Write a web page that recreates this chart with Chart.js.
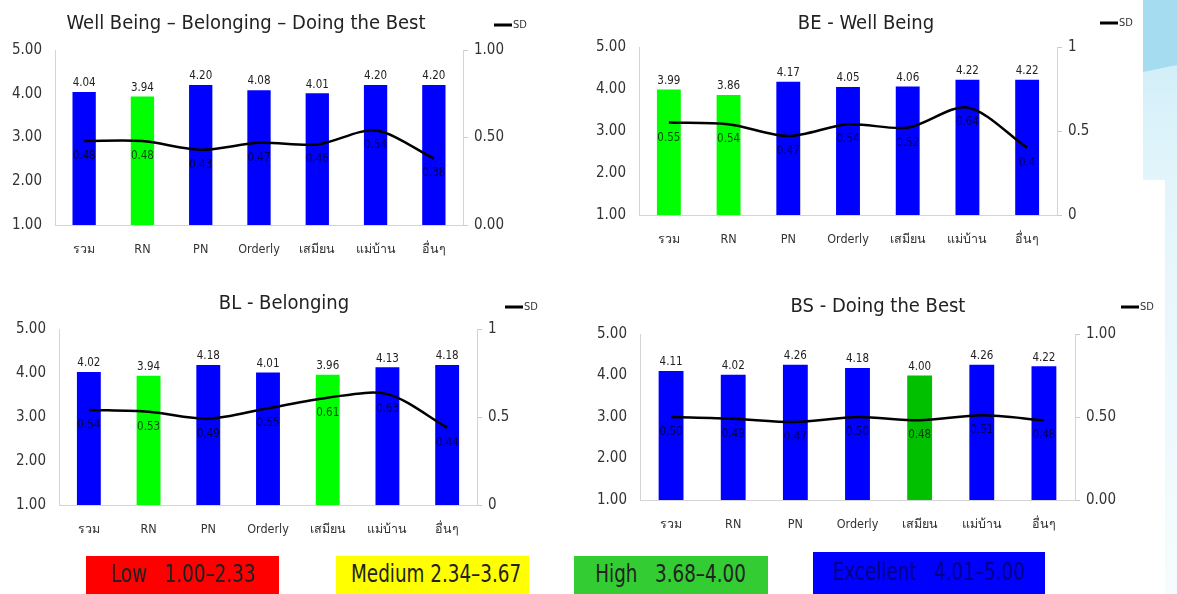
<!DOCTYPE html>
<html>
<head>
<meta charset="utf-8">
<script src="https://cdn.jsdelivr.net/npm/chart.js@4"></script>
<style>
  body { margin:0; width:1177px; height:594px; background:#fff; position:relative; overflow:hidden;
         font-family:"DejaVu Sans Condensed","DejaVu Sans",sans-serif; }
  canvas { position:absolute; }
  .title { position:absolute; transform:translate(-50%,-50%); font-size:20px; color:#222; white-space:nowrap; }
  .sd { position:absolute; font-size:11px; color:#333; transform:translateY(-50%); white-space:nowrap; }
  .sd span { display:inline-block; width:18px; height:3px; background:#000; vertical-align:middle; margin-right:1px; }
  .level { position:absolute; text-align:center; white-space:pre; overflow:hidden;
           font-family:"Liberation Sans Narrow","DejaVu Sans Condensed",sans-serif; font-size:24px; }
  .level span { display:inline-block; transform:scaleX(0.85); }
  .deco { position:absolute; }
</style>
</head>
<body>
<div class="deco" style="left:1143px;top:0;width:34px;height:180px;background:linear-gradient(#c9ebf7,#e3f5fb);"></div>
<div class="deco" style="left:1143px;top:0;width:34px;height:72px;background:#a6dcef;clip-path:polygon(0 0,100% 0,100% 65px,0 72px);"></div>
<div class="deco" style="left:1165px;top:180px;width:12px;height:414px;background:linear-gradient(#e2f5fb,#f6fcfe);"></div>

<canvas id="c1"></canvas>
<canvas id="c2"></canvas>
<canvas id="c3"></canvas>
<canvas id="c4"></canvas>

<script>
// categories (x-axis)
const categories = ['รวม', 'RN', 'PN', 'Orderly', 'เสมียน', 'แม่บ้าน', 'อื่นๆ'];

// Well Being - Belonging - Doing the Best
const meanAll = [4.04, 3.94, 4.20, 4.08, 4.01, 4.20, 4.20];
const sdAll   = [0.48, 0.48, 0.43, 0.47, 0.46, 0.54, 0.38];
// BE - Well Being
const meanBE = [3.99, 3.86, 4.17, 4.05, 4.06, 4.22, 4.22];
const sdBE   = [0.55, 0.54, 0.47, 0.54, 0.52, 0.64, 0.4];
// BL - Belonging
const meanBL = [4.02, 3.94, 4.18, 4.01, 3.96, 4.13, 4.18];
const sdBL   = [0.54, 0.53, 0.49, 0.55, 0.61, 0.63, 0.44];
// BS - Doing the Best
const meanBS = [4.11, 4.02, 4.26, 4.18, 4.00, 4.26, 4.22];
const sdBS   = [0.50, 0.49, 0.47, 0.50, 0.48, 0.51, 0.48];

// level legend (bottom row)
const levelNames  = ['Low', 'Medium', 'High', 'Excellent'];
const levelRanges = ['1.00–2.33', '2.34–3.67', '3.68–4.00', '4.01–5.00'];

const FONT = '"DejaVu Sans Condensed","DejaVu Sans",sans-serif';
const fix2 = v => Number(v).toFixed(2);
const gen = v => String(Number(v));

// numbers over the bars and under the SD line
const valueLabels = {
  id: 'valueLabels',
  afterDatasetsDraw(chart, args, opts) {
    const ctx = chart.ctx;
    ctx.save();
    ctx.textAlign = 'center';
    ctx.font = '11.5px ' + FONT;
    chart.data.datasets.forEach((ds, i) => {
      const meta = chart.getDatasetMeta(i);
      meta.data.forEach((el, j) => {
        if (ds.type === 'line') {
          ctx.fillStyle = 'rgba(0,0,0,0.7)';
          ctx.textBaseline = 'middle';
          ctx.fillText(opts.sdFmt(ds.data[j]), el.x, el.y + 15);
        } else {
          ctx.fillStyle = '#222';
          ctx.textBaseline = 'bottom';
          ctx.fillText(fix2(ds.data[j]), el.x, el.y - 3);
        }
      });
    });
    ctx.restore();
  }
};

function addText(cls, html, x, y) {
  const d = document.createElement('div');
  d.className = cls;
  d.innerHTML = html;
  d.style.left = x + 'px';
  d.style.top = y + 'px';
  document.body.appendChild(d);
}

function makeChart(id, cfg, means, sds) {
  const cv = document.getElementById(id);
  cv.width = cfg.w; cv.height = cfg.h;
  cv.style.left = cfg.x + 'px'; cv.style.top = cfg.y + 'px';
  const leftW = cfg.plot[0] - cfg.x;
  const rightW = cfg.x + cfg.w - cfg.plot[1];
  const padTop = cfg.plot[2] - cfg.y - 10;   // chart.js adds ~10px for the top tick label
  const bottomH = cfg.y + cfg.h - cfg.plot[3];

  addText('title', cfg.title, cfg.titlePos[0], cfg.titlePos[1]);
  addText('sd', '<span></span>SD', cfg.sdPos[0], cfg.sdPos[1]);

  new Chart(cv, {
    type: 'bar',
    data: {
      labels: categories,
      datasets: [
        {
          type: 'line',
          label: 'SD',
          data: sds,
          yAxisID: 'y1',
          borderColor: '#000',
          borderWidth: 2.5,
          pointRadius: 0,
          tension: 0.3,
          fill: false,
          order: 1
        },
        {
          label: 'Mean',
          data: means,
          yAxisID: 'y',
          backgroundColor: means.map(v => v <= 4.00 ? cfg.green : '#0000ff'),
          borderWidth: 0,
          categoryPercentage: 1,
          barPercentage: 0.4,
          order: 2
        }
      ]
    },
    options: {
      responsive: false,
      animation: false,
      layout: { padding: { top: padTop, left: 0, right: 0, bottom: 0 } },
      scales: {
        x: {
          grid: { display: false, drawTicks: false },
          border: { display: true, color: '#d4d4d4' },
          ticks: { color: '#333', padding: 17, font: { family: FONT, size: 12.5 }, maxRotation: 0 },
          afterFit: s => { s.height = bottomH; }
        },
        y: {
          min: 1, max: 5,
          grid: { display: false, drawTicks: false },
          border: { display: true, color: '#d4d4d4' },
          ticks: { stepSize: 1, color: '#333', padding: 13, font: { family: FONT, size: 15 },
                   callback: v => fix2(v) },
          afterFit: s => { s.width = leftW; }
        },
        y1: {
          position: 'right',
          min: 0, max: 1,
          grid: { display: true, drawOnChartArea: false, drawTicks: true, tickLength: 5, color: '#c8c8c8' },
          border: { display: true, color: '#d4d4d4' },
          ticks: { stepSize: 0.5, color: '#333', padding: 6, font: { family: FONT, size: 15 },
                   callback: v => cfg.sdFmt(v) },
          afterFit: s => { s.width = rightW; }
        }
      },
      plugins: {
        legend: { display: false },
        title: { display: false },
        tooltip: { enabled: false },
        valueLabels: { sdFmt: cfg.sdFmt }
      }
    },
    plugins: [valueLabels]
  });
}

makeChart('c1', { x: 0, y: 28, w: 505, h: 236, plot: [55, 463, 46, 225],
  title: 'Well Being – Belonging – Doing the Best', titlePos: [246, 22], sdPos: [494, 24],
  green: '#00ff00', sdFmt: fix2 }, meanAll, sdAll);

makeChart('c2', { x: 585, y: 25, w: 515, h: 228, plot: [639, 1057, 43, 215],
  title: 'BE - Well Being', titlePos: [866, 22], sdPos: [1100, 22],
  green: '#00ff00', sdFmt: gen }, meanBE, sdBE);

makeChart('c3', { x: 0, y: 307, w: 520, h: 236, plot: [59, 477, 325, 505],
  title: 'BL - Belonging', titlePos: [284, 302], sdPos: [505, 306],
  green: '#00ff00', sdFmt: gen }, meanBL, sdBL);

makeChart('c4', { x: 580, y: 312, w: 540, h: 226, plot: [640, 1075, 326, 500],
  title: 'BS - Doing the Best', titlePos: [878, 305], sdPos: [1121, 306],
  green: '#00c000', sdFmt: fix2 }, meanBS, sdBS);

// level boxes
const levelBoxes = [
  { x: 86,  y: 556, w: 193, bg: '#ff0000', fg: '#222', gap: '   ' },
  { x: 336, y: 556, w: 193, bg: '#ffff00', fg: '#222', gap: ' ' },
  { x: 574, y: 556, w: 194, bg: '#33cc33', fg: '#222', gap: '   ' },
  { x: 813, y: 552, w: 232, bg: '#0000ff', fg: '#00008a', gap: '   ' }
];
levelBoxes.forEach((b, i) => {
  const d = document.createElement('div');
  d.className = 'level';
  const s = document.createElement('span');
  s.textContent = levelNames[i] + b.gap + levelRanges[i];
  d.appendChild(s);
  const h = 594 - b.y;
  Object.assign(d.style, { left: b.x + 'px', top: b.y + 'px', width: b.w + 'px',
    background: b.bg, color: b.fg, height: h + 'px', lineHeight: (h - 2) + 'px' });
  document.body.appendChild(d);
});
</script>
</body>
</html>
